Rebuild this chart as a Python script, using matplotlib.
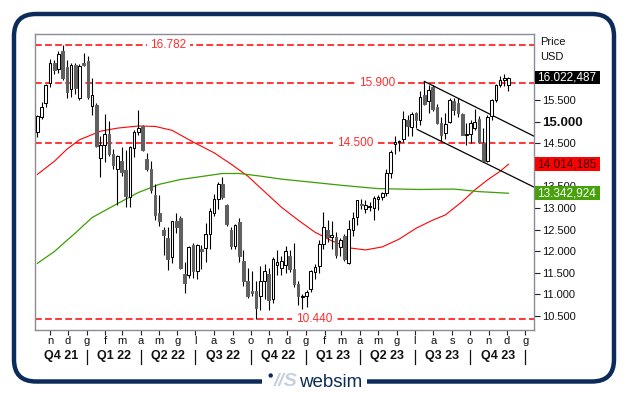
import numpy as np
import pandas as pd
import matplotlib
matplotlib.use('Agg')
import matplotlib.pyplot as plt
import matplotlib.dates as mdates
from matplotlib.patches import Rectangle, FancyBboxPatch, Circle
from matplotlib.transforms import Affine2D, blended_transform_factory

plt.rcParams['font.family'] = ['Liberation Sans', 'DejaVu Sans']

# candele settimanali (lunedi di inizio settimana)
first_week = '2021-10-11'
opens = [14770, 15100, 15430, 15890, 16350, 16220, 16640, 16260, 15750, 16320,
         15540, 16370, 16410, 15370, 15380, 14170, 14460, 14710, 14240, 13900,
         14100, 13880, 13260, 14380, 14760, 14900, 14140, 13900, 13300, 12880,
         12490, 12300, 11870, 12690, 12760, 11480, 11440, 12150, 11550, 12050,
         12080, 12390, 12880, 13210, 13550, 13060, 12500, 12110, 12670, 11770,
         11310, 11080, 11080, 10960, 11310, 11480, 10890, 11690, 11620, 11690,
         11900, 11580, 11250, 10940, 10970, 11130, 11520, 11660, 12170, 12490,
         12330, 12320, 12100, 12360, 11730, 12480, 12800, 13100, 12980, 13030,
         13000, 13220, 13250, 13340, 13820, 14480, 14530, 14590, 15030, 14870,
         15200, 15030, 15620, 15470, 15800, 15350, 14980, 14730, 15000, 15470,
         15430, 15180, 14700, 14720, 14860, 15060, 14500, 14100, 15130, 15500,
         15840, 15960, 15840]
highs = [15150, 15450, 15870, 16450, 16420, 16630, 16780, 16430, 16370, 16350,
         16330, 16600, 16530, 16020, 15440, 14670, 15170, 15020, 14360, 14230,
         14420, 14350, 14430, 14800, 15260, 14920, 14280, 14100, 13550, 13300,
         12550, 12550, 12710, 12880, 12820, 11740, 12120, 12200, 12170, 12150,
         12660, 13000, 13330, 13600, 13720, 13100, 12550, 12620, 12780, 12040,
         11620, 11550, 11300, 11650, 11700, 11620, 11860, 12040, 11880, 12130,
         12040, 12200, 11310, 11000, 11100, 11570, 11700, 12270, 12900, 12720,
         12700, 12450, 12300, 12400, 12720, 12900, 13190, 13200, 13180, 13140,
         13270, 13300, 13380, 13900, 14350, 14670, 14580, 15250, 15160, 15220,
         15220, 15700, 15932, 15850, 15850, 15400, 15100, 15200, 15550, 15550,
         15550, 15200, 14970, 15030, 15300, 15120, 14850, 15150, 15530, 15880,
         16060, 16110, 16040]
lows = [14640, 15060, 15330, 15800, 16100, 16120, 15970, 15540, 15560, 15640,
        15500, 16290, 15520, 15150, 14420, 13720, 14060, 14210, 13900, 13070,
        13750, 13030, 13030, 14180, 14700, 14320, 13850, 13350, 12730, 12580,
        11910, 11570, 11720, 12430, 11600, 11040, 11380, 11370, 11350, 11600,
        11740, 12050, 12820, 12970, 13220, 12580, 12050, 12050, 11740, 11190,
        10920, 10970, 10440, 10630, 10900, 10650, 10800, 11460, 11460, 11500,
        11520, 11170, 10760, 10670, 10710, 11050, 11350, 11500, 12050, 12220,
        12050, 11850, 11900, 11770, 11700, 12350, 12600, 12970, 12880, 12920,
        12720, 12950, 13180, 13280, 13700, 14240, 14310, 14520, 14670, 14670,
        14850, 14920, 15380, 15200, 15250, 14950, 14550, 14600, 14980, 15150,
        15100, 14680, 14450, 14500, 14800, 14500, 14058, 14060, 15050, 15450,
        15800, 15820, 15720]
closes = [15130, 15350, 15850, 16350, 16200, 16560, 16000, 15690, 16320, 15770,
          16290, 16310, 15570, 15610, 14440, 14460, 14710, 14260, 14000, 14210,
          13840, 13290, 14420, 14750, 14860, 14350, 13900, 13420, 12840, 12690,
          12370, 11830, 12700, 12550, 11620, 11270, 12090, 11550, 12150, 12010,
          12410, 12940, 13210, 13560, 13250, 12620, 12110, 12600, 11880, 11310,
          10970, 11040, 10690, 11310, 11550, 10880, 11820, 11750, 11770, 12000,
          11580, 11240, 10970, 10960, 11050, 11550, 11630, 12170, 12570, 12320,
          12370, 11920, 12270, 11830, 12520, 12760, 13180, 13060, 13080, 13040,
          13240, 13250, 13340, 13800, 14300, 14540, 14560, 15060, 14890, 15180,
          15040, 15570, 15420, 15740, 15290, 14980, 14700, 14950, 15500, 15280,
          15200, 14700, 14720, 14970, 15000, 14540, 14100, 15100, 15500, 15840,
          15970, 16000, 16022.487]

# medie mobili (indice settimana, valore)
red_ma_weeks = [0, 4, 7, 10, 15, 19, 24, 28, 32, 37, 42, 46, 50, 54, 58, 62, 66,
                70, 74, 78, 82, 86, 90, 94, 97, 101, 104, 107, 110, 112]
red_ma = [13780, 14080, 14360, 14580, 14780, 14850, 14900, 14890, 14800, 14530,
          14280, 14020, 13740, 13380, 13020, 12720, 12440, 12240, 12080, 12030,
          12100, 12280, 12530, 12720, 12840, 13150, 13420, 13650, 13850, 14014.185]
green_ma_weeks = [0, 4, 7, 9, 13, 19, 24, 29, 34, 39, 44, 48, 53, 58, 65, 73, 81,
                  91, 99, 105, 112]
green_ma = [11720, 11990, 12250, 12420, 12780, 13100, 13360, 13550, 13660, 13730,
            13800, 13800, 13740, 13670, 13600, 13520, 13450, 13430, 13440, 13380,
            13342.924]

levels = [16782, 15900, 14500, 10440]
level_labels = ['16.782', '15.900', '14.500', '10.440']
channel_top_dates = ['2023-07-17', '2024-01-15']
channel_top = [15932, 14667]
channel_bottom_dates = ['2023-07-05', '2024-01-15']
channel_bottom = [14820, 13488]

month_letters = ['n', 'd', 'g', 'f', 'm', 'a', 'm', 'g', 'l', 'a', 's', 'o', 'n',
                 'd', 'g', 'f', 'm', 'a', 'm', 'g', 'l', 'a', 's', 'o', 'n', 'd', 'g']
quarter_labels = ['Q4 21', 'Q1 22', 'Q2 22', 'Q3 22', 'Q4 22',
                  'Q1 23', 'Q2 23', 'Q3 23', 'Q4 23']
quarter_starts = ['2021-10-07', '2022-01-01', '2022-04-01', '2022-07-01', '2022-10-01',
                  '2023-01-01', '2023-04-01', '2023-07-01', '2023-10-01', '2024-01-01']
y_ticks = list(range(10500, 16001, 500))
hidden_ticks = [14000, 16000]   # coperti dalle etichette di prezzo

last_price = 16022.487
red_last = 14014.185
green_last = 13342.924

W, H = 629, 397
NAVY = '#0d2b5a'

fig = plt.figure(figsize=(W / 100, H / 100), dpi=100)
fig.patch.set_facecolor('white')
ax = fig.add_axes([35 / W, 67 / H, 499 / W, 296 / H])

dates = pd.date_range(first_week, periods=len(closes), freq='7D')
xs = mdates.date2num(dates)

# livelli orizzontali
lab_x = [0.267, 0.685, 0.641, 0.559]
trans_lv = blended_transform_factory(ax.transAxes, ax.transData)
for v, lab, fx in zip(levels, level_labels, lab_x):
    ax.axhline(v, color='#ff0000', lw=1.1, ls=(0, (4.4, 2.2)), zorder=1)
    ax.text(fx, v, lab, transform=trans_lv, ha='center', va='center', color='#ff2d2d',
            fontsize=8.5, zorder=1.2, bbox=dict(fc='white', ec='none', pad=2.5))

# medie mobili
ax.plot(mdates.date2num(dates[red_ma_weeks]), red_ma, color='#ff0000', lw=0.8, zorder=1.5)
ax.plot(mdates.date2num(dates[green_ma_weeks]), green_ma, color='#3c9e00', lw=0.9, zorder=1.5)

# candele
w = 4.4
for x, o, h, l, c in zip(xs, opens, highs, lows, closes):
    ax.vlines(x, l, h, color='black', lw=0.8, zorder=2)
    bottom = min(o, c)
    height = max(abs(c - o), 12)
    if c >= o:
        ax.add_patch(Rectangle((x - w / 2, bottom), w, height, fc='white', ec='black',
                               lw=0.75, zorder=3))
    else:
        ax.add_patch(Rectangle((x - w / 2, bottom), w, height, fc='#606060', ec='#606060',
                               lw=0.75, zorder=3))

# canale
ax.plot(mdates.date2num(pd.to_datetime(channel_top_dates)), channel_top,
        color='black', lw=0.9, zorder=2.5)
ax.plot(mdates.date2num(pd.to_datetime(channel_bottom_dates)), channel_bottom,
        color='black', lw=0.9, zorder=2.5)

ax.set_xlim(mdates.date2num(pd.Timestamp('2021-10-07')),
            mdates.date2num(pd.Timestamp('2024-01-15')) + 0.5)
ax.set_ylim(10176, 17030)

for s in ax.spines.values():
    s.set_color('#8a8a99')
    s.set_linewidth(1.0)

# asse y a destra
ax.yaxis.tick_right()
ax.set_yticks(y_ticks)
ax.set_yticklabels(['' if t in hidden_ticks else f'{t:,}'.replace(',', '.') for t in y_ticks])
ax.tick_params(axis='y', length=4, width=0.8, color='#222222', labelsize=8, pad=1.5,
               labelcolor='#111111')
for t, lab in zip(y_ticks, ax.get_yticklabels()):
    if t == 15000:
        lab.set_fontsize(9.5)
        lab.set_fontweight('bold')

# asse x: mesi
month_starts = pd.date_range('2021-11-01', '2024-01-01', freq='MS')
ax.set_xticks(mdates.date2num(month_starts))
ax.set_xticklabels(month_letters)
ax.tick_params(axis='x', length=3.5, width=0.8, color='#222222', labelsize=8, pad=1,
               labelcolor='#111111')

# trimestri
trans_q = blended_transform_factory(ax.transData, ax.transAxes)
qx = mdates.date2num(pd.to_datetime(quarter_starts))
for k, lab in enumerate(quarter_labels):
    ax.text((qx[k] + qx[k + 1]) / 2, -0.088, lab, transform=trans_q, ha='center',
            va='center', fontsize=9, fontweight='bold', color='#111111')
for x in qx[1:]:
    ax.plot([x, x], [-0.068, -0.116], transform=trans_q, clip_on=False,
            color='#111111', lw=0.9)

# etichette prezzo: riquadro largo 65 px, alto 13.5 px
box_w = 65 / 499
box_h = 13.5 / 296 * (17030 - 10176)

def price_box(v, txt, fc, tc):
    ax.add_patch(Rectangle((1.002, v - box_h / 2), box_w, box_h, transform=trans_lv,
                           fc=fc, ec='none', clip_on=False, zorder=6))
    ax.text(1.006, v, txt, transform=trans_lv, ha='left', va='center', fontsize=8.5,
            color=tc, clip_on=False, zorder=7)

price_box(last_price, '16.022,487', 'black', 'white')
price_box(red_last, '14.014,185', '#ff0000', '#2a0000')
price_box(green_last, '13.342,924', '#46a20a', 'white')

# cornice e logo (coordinate in pixel)
px = Affine2D().scale(1 / W, 1 / H) + fig.transFigure
fig.text(540, H - 41.7, 'Price', transform=px, ha='left', va='center', fontsize=8,
         color='#111111')
fig.text(540, H - 56.7, 'USD', transform=px, ha='left', va='center', fontsize=8,
         color='#111111')

frame = FancyBboxPatch((14, H - 381.5), 600, 367.5, boxstyle='round,pad=0,rounding_size=22',
                       transform=px, fill=False, ec=NAVY, lw=3.2, zorder=5)
fig.add_artist(frame)
fig.add_artist(Rectangle((262, H - 388), 105, 12, transform=px, fc='white', ec='none',
                         zorder=6))
fig.add_artist(Circle((270.7, H - 375.5), 2.2, transform=px, fc=NAVY, ec='none', zorder=7))
fig.text(273.5, H - 382, '//S', transform=px, ha='left', va='center', fontsize=14,
         fontstyle='italic', fontweight='bold', color='#c5d0df', zorder=7)
fig.text(299.5, H - 382.5, 'websim', transform=px, ha='left', va='center', fontsize=13.5,
         color=NAVY, zorder=7)

fig.savefig('out.png', dpi=100)
